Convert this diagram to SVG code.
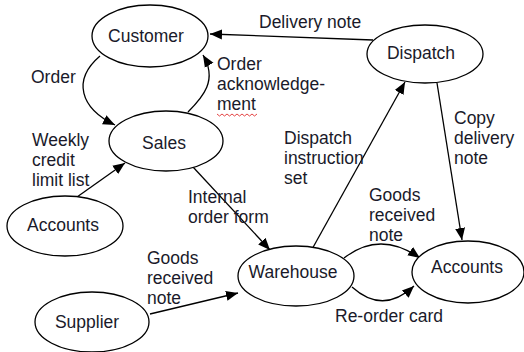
<svg xmlns="http://www.w3.org/2000/svg" width="524" height="352" viewBox="0 0 524 352">
<style>
.n{fill:#fff;stroke:#000;stroke-width:1.3}
.c{fill:none;stroke:#000;stroke-width:1.3}
text{font-family:"Liberation Sans",Arial,sans-serif;font-size:17.5px;fill:#1a1a2a}
.m{text-anchor:middle}
</style>
<defs>
<marker id="ah" markerUnits="userSpaceOnUse" markerWidth="14" markerHeight="12" refX="12" refY="5" orient="auto" viewBox="0 0 14 10">
<path d="M0,0 L12,5 L0,10 z" fill="#000"/>
</marker>
</defs>
<rect width="524" height="352" fill="#fff"/>
<g id="connectors">
<path class="c" d="M100 56 C72 80 80 108 115 125" marker-end="url(#ah)"/>
<path class="c" d="M188 112 C203 97 218 80 203 55" marker-end="url(#ah)"/>
<path class="c" d="M373 40 L210 34" marker-end="url(#ah)"/>
<path class="c" d="M77 197 L125 163" marker-end="url(#ah)"/>
<path class="c" d="M193 167 L270 250" marker-end="url(#ah)"/>
<path class="c" d="M311 251 L405 82" marker-end="url(#ah)"/>
<path class="c" d="M437 83 L462 240" marker-end="url(#ah)"/>
<path class="c" d="M344 258 Q380 230 420 258" marker-end="url(#ah)"/>
<path class="c" d="M352 287 Q383 315 414 286" marker-end="url(#ah)"/>
<path class="c" d="M150 314 L238 293" marker-end="url(#ah)"/>
</g>
<g id="customer"><ellipse class="n" cx="150" cy="36" rx="58" ry="31"/><text class="m" x="146" y="42">Customer</text></g>
<g id="sales"><ellipse class="n" cx="166" cy="141" rx="57" ry="30"/><text class="m" x="164" y="149">Sales</text></g>
<g id="dispatch"><ellipse class="n" cx="425" cy="54" rx="58" ry="29"/><text class="m" x="421" y="59">Dispatch</text></g>
<g id="accounts-left"><ellipse class="n" cx="65" cy="226" rx="58" ry="30"/><text class="m" x="63" y="231">Accounts</text></g>
<g id="supplier"><ellipse class="n" cx="92" cy="322" rx="57" ry="30"/><text class="m" x="87" y="328">Supplier</text></g>
<g id="warehouse"><ellipse class="n" cx="296" cy="276" rx="58" ry="30"/><text class="m" x="293" y="278">Warehouse</text></g>
<g id="accounts-right"><ellipse class="n" cx="468" cy="272" rx="56" ry="31"/><text class="m" x="467" y="273">Accounts</text></g>
<g id="labels">
<text x="31" y="83">Order</text>
<text x="217" y="70">Order</text>
<text x="217" y="90">acknowledge-</text>
<text x="217" y="110">ment</text>
<path d="M217 114 l2.5 2 l2.5 -2 l2.5 2 l2.5 -2 l2.5 2 l2.5 -2 l2.5 2 l2.5 -2 l2.5 2 l2.5 -2 l2.5 2 l2.5 -2 l2.5 2 l2.5 -2 l2.5 2 l2.5 -2" fill="none" stroke="#e03030" stroke-width="0.9"/>
<text x="259" y="28">Delivery note</text>
<text x="32" y="146">Weekly</text>
<text x="32" y="166">credit</text>
<text x="32" y="186">limit list</text>
<text x="188" y="203">Internal</text>
<text x="188" y="223">order form</text>
<text x="284" y="144">Dispatch</text>
<text x="284" y="164">instruction</text>
<text x="284" y="184">set</text>
<text x="454" y="124">Copy</text>
<text x="454" y="144">delivery</text>
<text x="454" y="164">note</text>
<text x="369" y="201">Goods</text>
<text x="369" y="221">received</text>
<text x="369" y="241">note</text>
<text x="147" y="264">Goods</text>
<text x="147" y="284">received</text>
<text x="147" y="304">note</text>
<text x="335" y="322">Re-order card</text>
</g>
</svg>
